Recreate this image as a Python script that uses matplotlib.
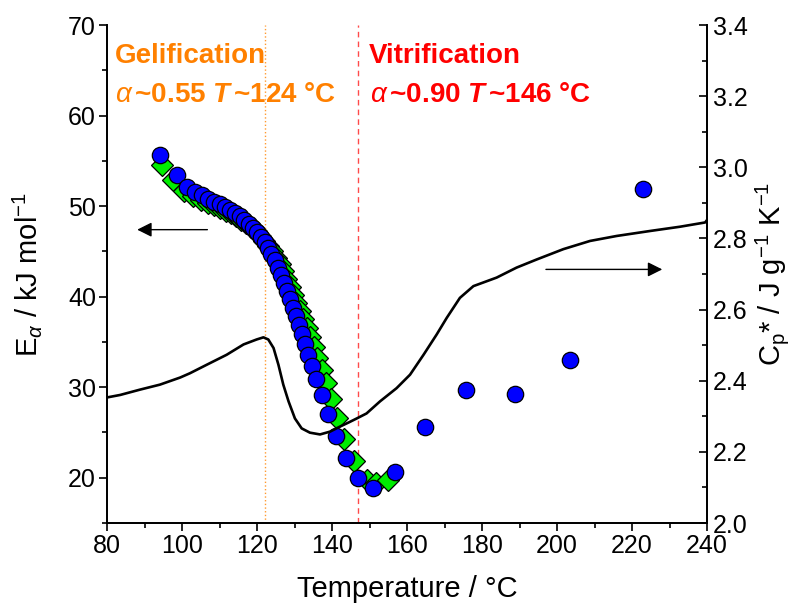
import matplotlib
matplotlib.use('Agg')
import matplotlib.pyplot as plt
from matplotlib.ticker import MultipleLocator

plt.rcParams['font.family'] = 'Liberation Sans'
plt.rcParams['mathtext.fontset'] = 'custom'
plt.rcParams['mathtext.rm'] = 'Liberation Sans'
plt.rcParams['mathtext.it'] = 'Liberation Sans:italic'
plt.rcParams['mathtext.bf'] = 'Liberation Sans:bold'
plt.rcParams['mathtext.bfit'] = 'Liberation Sans:italic:bold'

# Activation energy, circles (T in degC, E in kJ/mol)
T_circ = [94.1, 98.6, 101.3, 103.5, 105.3, 107.0, 108.6, 110.1, 111.5, 112.9,
          114.2, 115.4, 116.6, 117.8, 118.9, 120.0, 121.0, 122.0, 122.9, 123.8,
          124.7, 125.5, 126.3, 127.1, 127.9, 128.7, 129.5, 130.3, 131.1, 131.9,
          132.8, 133.7, 134.7, 135.8, 137.2, 138.9, 141.1, 143.7, 146.9, 151.0,
          156.9, 164.8, 175.6, 188.8, 203.5, 222.9]
E_circ = [55.7, 53.4, 52.1, 51.6, 51.2, 50.8, 50.5, 50.2, 49.9, 49.6,
          49.2, 48.9, 48.5, 48.0, 47.6, 47.1, 46.6, 46.0, 45.4, 44.7,
          44.0, 43.2, 42.4, 41.5, 40.6, 39.7, 38.8, 37.9, 36.9, 35.9,
          34.8, 33.6, 32.3, 30.9, 29.1, 27.0, 24.6, 22.2, 20.0, 18.9,
          20.6, 25.6, 29.7, 29.2, 33.0, 51.9]

# Activation energy, diamonds
T_dia = [94.6, 97.7, 100.6, 103.0, 105.0, 106.8, 108.5, 110.1, 111.6, 113.1,
         114.5, 115.8, 117.1, 118.4, 119.6, 120.8, 121.9, 123.0, 124.0, 125.0,
         126.0, 126.9, 127.8, 128.7, 129.6, 130.5, 131.4, 132.3, 133.2, 134.1,
         135.1, 136.1, 137.2, 138.4, 139.8, 141.3, 143.3, 145.8, 149.3, 151.8,
         155.0]
E_dia = [54.5, 52.9, 51.7, 51.1, 50.7, 50.4, 50.1, 49.8, 49.5, 49.2,
         48.9, 48.5, 48.1, 47.7, 47.2, 46.7, 46.2, 45.6, 45.0, 44.3,
         43.6, 42.8, 42.0, 41.1, 40.2, 39.3, 38.4, 37.5, 36.5, 35.5,
         34.4, 33.2, 31.9, 30.5, 28.7, 26.6, 24.3, 21.9, 19.7, 19.4,
         19.8]

# Heat capacity curve
T_cp = [80.0, 83.5, 88.8, 94.1, 99.5, 102.1, 106.6, 111.9, 116.4, 119.9,
        121.7, 123.0, 124.4, 125.7, 127.0, 128.4, 130.1, 131.9, 134.1, 136.8,
        139.5, 142.1, 144.5, 146.6, 149.2, 152.8, 157.2, 160.8, 164.4, 167.9,
        170.6, 174.1, 177.7, 183.9, 189.2, 194.6, 201.7, 208.8, 215.9, 224.8,
        232.8, 239.5, 240.0]
Cp = [2.353, 2.360, 2.375, 2.389, 2.409, 2.421, 2.445, 2.473, 2.502, 2.516,
      2.522, 2.516, 2.492, 2.445, 2.389, 2.342, 2.294, 2.266, 2.254, 2.249,
      2.257, 2.271, 2.283, 2.294, 2.308, 2.342, 2.379, 2.417, 2.473, 2.530,
      2.577, 2.633, 2.666, 2.690, 2.718, 2.741, 2.770, 2.793, 2.807, 2.821,
      2.833, 2.845, 2.852]

T_gel = 122
T_vit = 147

fig = plt.figure(figsize=(8.03, 6.08), dpi=100)
ax = fig.add_axes([0.1333, 0.1398, 0.7472, 0.819])
ax2 = ax.twinx()

ax.axvline(T_gel, color='#FF9A30', ls=':', lw=1.0)
ax.axvline(T_vit, color='#FF4A4A', ls=(0, (4, 3)), lw=1.0)

ax.plot(T_dia, E_dia, 'D', ms=11.5, mfc='#00EE00', mec='black', mew=0.9, zorder=3)
ax.plot(T_circ, E_circ, 'o', ms=11.8, mfc='#0000FF', mec='black', mew=0.9, zorder=4)
ax2.plot(T_cp, Cp, '-', color='black', lw=1.9)

# arrows
ax.annotate('', xy=(87.3, 47.4), xytext=(107.5, 47.4),
            arrowprops=dict(arrowstyle='-|>', color='black', lw=1, mutation_scale=22))
ax2.annotate('', xy=(228.8, 2.713), xytext=(196.3, 2.713),
             arrowprops=dict(arrowstyle='-|>', color='black', lw=1, mutation_scale=22))

# annotations
ax.text(82.1, 65.8, 'Gelification', color='#FF8000', fontsize=20, fontweight='bold', va='baseline')
ax.text(82.2, 61.5, r'$\alpha\,$~0.55 $\mathbfit{T}\,$~124 °C', color='#FF8000', fontsize=20,
        fontweight='bold', va='baseline')
ax.text(149.9, 65.8, 'Vitrification', color='#FF0000', fontsize=20, fontweight='bold', va='baseline')
ax.text(150.1, 61.5, r'$\alpha\,$~0.90 $\mathbfit{T}\,$~146 °C', color='#FF0000', fontsize=20,
        fontweight='bold', va='baseline')

ax.set_xlim(80, 240)
ax.set_ylim(15, 70)
ax2.set_ylim(2.0, 3.4)

ax.xaxis.set_major_locator(MultipleLocator(20))
ax.xaxis.set_minor_locator(MultipleLocator(10))
ax.yaxis.set_major_locator(MultipleLocator(10))
ax.yaxis.set_minor_locator(MultipleLocator(5))
ax2.yaxis.set_major_locator(MultipleLocator(0.2))
ax2.yaxis.set_minor_locator(MultipleLocator(0.1))
ax2.yaxis.set_major_formatter(matplotlib.ticker.FormatStrFormatter('%.1f'))

for a in (ax, ax2):
    a.spines['top'].set_visible(False)
    for s in a.spines.values():
        s.set_linewidth(1.3)

ax.tick_params(which='major', direction='out', length=6, width=1.2, labelsize=18, pad=2)
ax.tick_params(which='minor', direction='out', length=3.5, width=1.2)
ax2.tick_params(which='major', direction='in', length=6, width=1.2, labelsize=18, pad=4)
ax2.tick_params(which='minor', direction='in', length=3.5, width=1.2)

ax.set_xlabel('Temperature / °C', fontsize=21, labelpad=12)
ax.set_ylabel(r'E$_{\alpha}$ / kJ mol$^{-1}$', fontsize=21, labelpad=17)
ax2.set_ylabel(r'C$_{\rm p}$* / J g$^{-1}$ K$^{-1}$', fontsize=21, labelpad=4)

fig.savefig('out.png', dpi=100)
